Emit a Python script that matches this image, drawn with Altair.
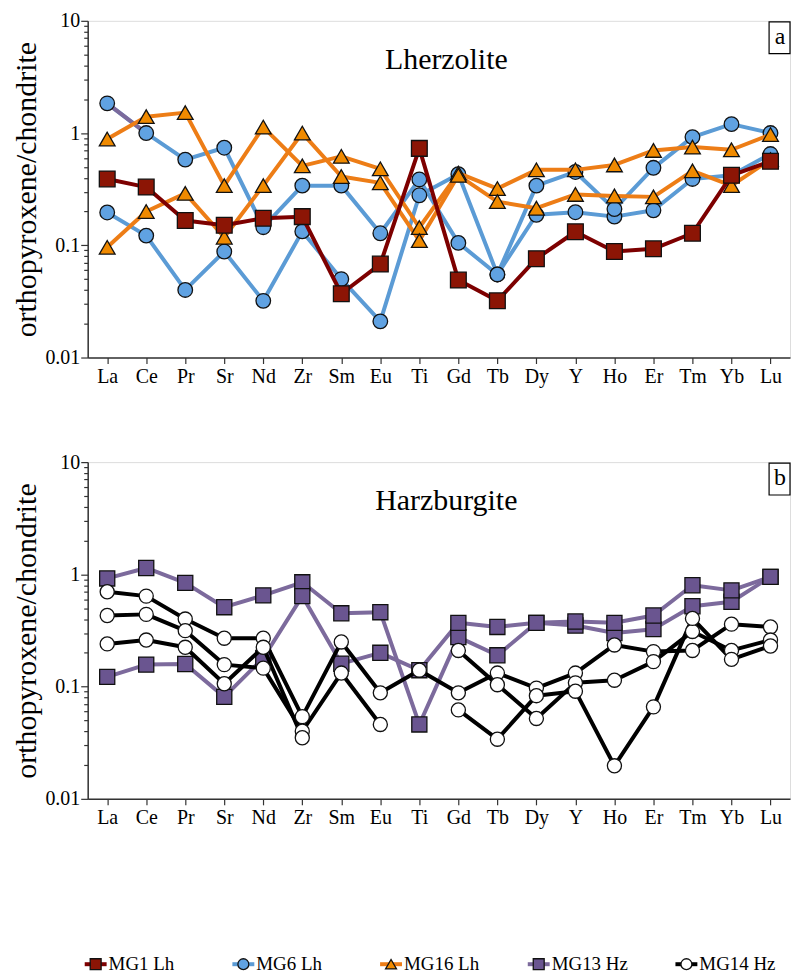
import altair as alt
import pandas as pd

FONT = "Liberation Serif"

elements = ["La", "Ce", "Pr", "Sr", "Nd", "Zr", "Sm", "Eu", "Ti", "Gd",
            "Tb", "Dy", "Y", "Ho", "Er", "Tm", "Yb", "Lu"]

# ---- Panel a: Lherzolite ----
mg1_lh = [0.39, 0.33, 0.166, 0.151, 0.174, 0.18, 0.037, 0.068, 0.73, 0.049,
          0.032, 0.076, 0.132, 0.088, 0.093, 0.128, 0.42, 0.56]
mg6_lh_1 = [1.84, 1.0, 0.58, 0.74, 0.145, 0.34, 0.34, 0.128, 0.386, 0.105,
            0.055, 0.187, 0.197, 0.18, 0.205, 0.39, 0.42, 0.65]
mg6_lh_2 = [0.196, 0.122, 0.040, 0.088, 0.032, 0.133, 0.050, 0.021, 0.279, 0.43,
            0.055, 0.34, 0.45, 0.21, 0.49, 0.92, 1.2, 1.0]
mg16_lh_1 = [0.885, 1.4, 1.52, 0.34, 1.13, 0.51, 0.62, 0.48, 0.144, 0.44,
             0.32, 0.47, 0.47, 0.52, 0.70, 0.75, 0.71, 0.97]
mg16_lh_2 = [0.096, 0.2, 0.29, 0.118, 0.34, 1.0, 0.41, 0.36, 0.11, 0.42,
             0.245, 0.214, 0.284, 0.275, 0.27, 0.46, 0.34, 0.58]
purple_trace_a = [1.84, 1.0] + [None] * 16

# ---- Panel b: Harzburgite ----
mg13_hz_1 = [0.92, 1.14, 0.84, 0.51, 0.65, 0.85, 0.45, 0.46, 0.046, 0.276,
             0.19, 0.37, 0.35, 0.30, 0.325, 0.52, 0.57, 0.95]
mg13_hz_2 = [0.122, 0.157, 0.159, 0.081, 0.18, 0.64, 0.16, 0.2, 0.14, 0.37,
             0.34, 0.37, 0.38, 0.37, 0.43, 0.80, 0.72, 0.95]
mg14_hz_1 = [0.70, 0.64, 0.40, 0.27, 0.27, 0.054, 0.25, 0.088, 0.14, 0.088,
             0.132, 0.097, 0.132, 0.235, 0.205, 0.21, 0.36, 0.34]
mg14_hz_2 = [0.43, 0.44, 0.315, 0.157, 0.146, 0.040, 0.132, 0.046, None, 0.21,
             0.104, 0.052, 0.108, 0.114, 0.167, 0.31, 0.21, 0.26]
mg14_hz_3 = [0.24, 0.26, 0.224, 0.106, 0.224, 0.035, None, None, None, 0.062,
             0.034, 0.083, 0.091, 0.0197, 0.066, 0.405, 0.175, 0.23]

# legend / style tables
legend_names = ["MG1 Lh", "MG6 Lh", "MG16 Lh", "MG13 Hz", "MG14 Hz"]
line_colors = ["#7d0000", "#5b9bd5", "#ed7d16", "#7c6a9c", "#000000"]
fill_colors = ["#8c1505", "#60a2e2", "#f08a00", "#6a5590", "#ffffff"]
shapes = ["square", "circle", "triangle-up", "square", "circle"]


def to_df(samples):
    rows = []
    for sample_id, values in samples:
        seg = 0
        gap = False
        for i, (el, v) in enumerate(zip(elements, values)):
            if v is None:
                if not gap:
                    seg += 1
                gap = True
                continue
            gap = False
            rows.append({"element": el, "idx": i, "value": v,
                         "line": f"{sample_id}-{seg}"})
    return pd.DataFrame(rows)


tick_vals = [0.01, 0.02, 0.03, 0.04, 0.05, 0.06, 0.07, 0.08, 0.09,
             0.1, 0.2, 0.3, 0.4, 0.5, 0.6, 0.7, 0.8, 0.9,
             1, 2, 3, 4, 5, 6, 7, 8, 9, 10]
major_test = "datum.value == 0.01 || datum.value == 0.1 || datum.value == 1 || datum.value == 10"

x_enc = alt.X("element:N", sort=elements, scale=alt.Scale(domain=elements),
              axis=alt.Axis(title=None, labelAngle=0, labelFont=FONT, labelFontSize=20,
                            labelColor="black", tickSize=6, tickColor="#333",
                            domainColor="#333", domainWidth=1.5, tickWidth=1.2,
                            labelPadding=3, grid=False))
y_enc = alt.Y("value:Q",
              scale=alt.Scale(type="log", domain=[0.01, 10], nice=False),
              axis=alt.Axis(title="orthopyroxene/chondrite", values=tick_vals,
                            labelExpr=f"({major_test}) ? datum.label : ''",
                            format="~g", labelOverlap=False,
                            tickSize={"condition": {"test": major_test, "value": 7}, "value": 4},
                            labelFont=FONT, labelFontSize=20, labelColor="black",
                            labelPadding=1, titleFont=FONT, titleFontSize=30,
                            titleFontWeight="normal", titleColor="black", titlePadding=3,
                            tickColor="#333", domainColor="#333", domainWidth=1.5,
                            tickWidth=1.2, grid=False))


def series_layers(samples, k, size, with_points=True, line_color=None):
    df = to_df(samples)
    lc = line_color or line_colors[k]
    line = alt.Chart(df).mark_line(strokeWidth=4, color=lc, strokeJoin="round").encode(
        x=x_enc, y=y_enc, detail="line:N", order="idx:Q")
    layers = [line]
    if with_points:
        pts = alt.Chart(df).mark_point(shape=shapes[k], filled=True, fill=fill_colors[k],
                                       stroke="#111", strokeWidth=1.3, size=size,
                                       opacity=1).encode(x=x_enc, y=y_enc)
        layers.append(pts)
    return layers


def annotations(title, letter):
    t = alt.Chart(pd.DataFrame({"t": [title]})).mark_text(
        font=FONT, fontSize=30, align="center", baseline="middle", color="black"
    ).encode(x=alt.value(360), y=alt.value(39), text="t:N")
    box = alt.Chart(pd.DataFrame({"t": [letter]})).mark_rect(
        fill="white", stroke="black", strokeWidth=1.2
    ).encode(x=alt.value(684), x2=alt.value(705), y=alt.value(1), y2=alt.value(33))
    lt = alt.Chart(pd.DataFrame({"t": [letter]})).mark_text(
        font=FONT, fontSize=24, align="center", baseline="middle", color="black"
    ).encode(x=alt.value(695), y=alt.value(16), text="t:N")
    return [t, box, lt]


W, H = 705, 338

# panel a
blue = series_layers([("a", mg6_lh_1), ("b", mg6_lh_2)], 1, 215)
purple_a = series_layers([("p", purple_trace_a)], 3, 200, with_points=False)
orange = series_layers([("a", mg16_lh_1), ("b", mg16_lh_2)], 2, 250)
red = series_layers([("a", mg1_lh)], 0, 250)
panel_a = alt.layer(blue[0], purple_a[0], blue[1], *orange, *red,
                    *annotations("Lherzolite", "a")).properties(width=W, height=H)

# panel b
purp = series_layers([("a", mg13_hz_1), ("b", mg13_hz_2)], 3, 230)
black = series_layers([("a", mg14_hz_1), ("b", mg14_hz_2), ("c", mg14_hz_3)], 4, 200)
panel_b = alt.layer(*purp, *black,
                    *annotations("Harzburgite", "b")).properties(width=W, height=H)

# legend
LY = 71
leg_df = pd.DataFrame({"name": legend_names, "i": list(range(5)),
                       "lc": line_colors, "fc": fill_colors, "sh": shapes})
lx = alt.X("i:Q", scale=alt.Scale(domain=[0, 4], range=[8, 601]), axis=None)
leg_rule = alt.Chart(leg_df).mark_rule(strokeWidth=4, xOffset=-11, x2Offset=11).encode(
    x=lx, x2="i:Q", y=alt.value(LY), color=alt.Color("lc:N", scale=None))
leg_pt = alt.Chart(leg_df).mark_point(filled=True, stroke="#111", strokeWidth=1.3,
                                      size=120, opacity=1).encode(
    x=lx, y=alt.value(LY), fill=alt.Fill("fc:N", scale=None),
    shape=alt.Shape("sh:N", scale=None))
leg_txt = alt.Chart(leg_df).mark_text(font=FONT, fontSize=19, align="left",
                                      baseline="middle", dx=13, color="black").encode(
    x=lx, y=alt.value(LY), text="name:N")
legend = alt.layer(leg_rule, leg_pt, leg_txt).properties(
    width=W, height=86, view=alt.ViewBackground(stroke="transparent"))

chart = alt.vconcat(panel_a, panel_b, legend, spacing=64).properties(
    padding={"left": 3, "top": 0, "right": 0, "bottom": 0}
).configure_view(stroke="#333", strokeWidth=1.5).configure(background="white")

chart.save("out.html", embed_options={"renderer": "svg", "actions": False})
